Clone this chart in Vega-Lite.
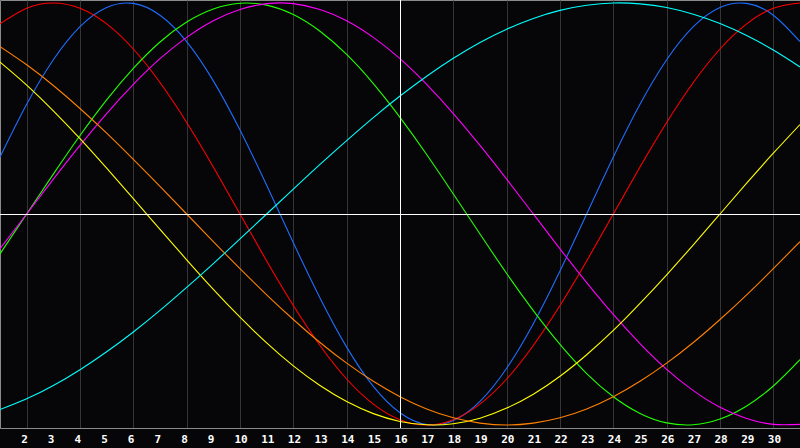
{
  "$schema": "https://vega.github.io/schema/vega-lite/v6.json",
  "width": 800,
  "height": 428,
  "autosize": "none",
  "padding": {"left": 0, "top": 0, "right": 0, "bottom": 20},
  "background": "#060608",
  "config": {
    "view": {"stroke": "#8a8a8a", "fill": "#060608"}
  },
  "datasets": {
    "curves": [
      {"d":1,"s":"Physical","v":0.270},{"d":2,"s":"Physical","v":0.520},{"d":3,"s":"Physical","v":0.731},{"d":4,"s":"Physical","v":0.888},{"d":5,"s":"Physical","v":0.979},{"d":6,"s":"Physical","v":0.998},{"d":7,"s":"Physical","v":0.942},{"d":8,"s":"Physical","v":0.817},{"d":9,"s":"Physical","v":0.631},{"d":10,"s":"Physical","v":0.398},{"d":11,"s":"Physical","v":0.136},{"d":12,"s":"Physical","v":-0.136},{"d":13,"s":"Physical","v":-0.398},{"d":14,"s":"Physical","v":-0.631},{"d":15,"s":"Physical","v":-0.817},{"d":16,"s":"Physical","v":-0.942},{"d":17,"s":"Physical","v":-0.998},{"d":18,"s":"Physical","v":-0.979},{"d":19,"s":"Physical","v":-0.888},{"d":20,"s":"Physical","v":-0.731},{"d":21,"s":"Physical","v":-0.520},{"d":22,"s":"Physical","v":-0.270},{"d":23,"s":"Physical","v":0},{"d":24,"s":"Physical","v":0.270},{"d":25,"s":"Physical","v":0.520},{"d":26,"s":"Physical","v":0.731},{"d":27,"s":"Physical","v":0.888},{"d":28,"s":"Physical","v":0.979},{"d":29,"s":"Physical","v":0.998},{"d":30,"s":"Physical","v":0.942},{"d":31,"s":"Physical","v":0.817},
      {"d":1,"s":"Emotional","v":0.901},{"d":2,"s":"Emotional","v":0.975},{"d":3,"s":"Emotional","v":1},{"d":4,"s":"Emotional","v":0.975},{"d":5,"s":"Emotional","v":0.901},{"d":6,"s":"Emotional","v":0.782},{"d":7,"s":"Emotional","v":0.623},{"d":8,"s":"Emotional","v":0.434},{"d":9,"s":"Emotional","v":0.223},{"d":10,"s":"Emotional","v":0},{"d":11,"s":"Emotional","v":-0.223},{"d":12,"s":"Emotional","v":-0.434},{"d":13,"s":"Emotional","v":-0.623},{"d":14,"s":"Emotional","v":-0.782},{"d":15,"s":"Emotional","v":-0.901},{"d":16,"s":"Emotional","v":-0.975},{"d":17,"s":"Emotional","v":-1},{"d":18,"s":"Emotional","v":-0.975},{"d":19,"s":"Emotional","v":-0.901},{"d":20,"s":"Emotional","v":-0.782},{"d":21,"s":"Emotional","v":-0.623},{"d":22,"s":"Emotional","v":-0.434},{"d":23,"s":"Emotional","v":-0.223},{"d":24,"s":"Emotional","v":0},{"d":25,"s":"Emotional","v":0.223},{"d":26,"s":"Emotional","v":0.434},{"d":27,"s":"Emotional","v":0.623},{"d":28,"s":"Emotional","v":0.782},{"d":29,"s":"Emotional","v":0.901},{"d":30,"s":"Emotional","v":0.975},{"d":31,"s":"Emotional","v":1},
      {"d":1,"s":"Intellectual","v":-0.189},{"d":2,"s":"Intellectual","v":0},{"d":3,"s":"Intellectual","v":0.189},{"d":4,"s":"Intellectual","v":0.372},{"d":5,"s":"Intellectual","v":0.541},{"d":6,"s":"Intellectual","v":0.690},{"d":7,"s":"Intellectual","v":0.815},{"d":8,"s":"Intellectual","v":0.910},{"d":9,"s":"Intellectual","v":0.972},{"d":10,"s":"Intellectual","v":0.999},{"d":11,"s":"Intellectual","v":0.990},{"d":12,"s":"Intellectual","v":0.945},{"d":13,"s":"Intellectual","v":0.866},{"d":14,"s":"Intellectual","v":0.756},{"d":15,"s":"Intellectual","v":0.618},{"d":16,"s":"Intellectual","v":0.458},{"d":17,"s":"Intellectual","v":0.282},{"d":18,"s":"Intellectual","v":0.095},{"d":19,"s":"Intellectual","v":-0.095},{"d":20,"s":"Intellectual","v":-0.282},{"d":21,"s":"Intellectual","v":-0.458},{"d":22,"s":"Intellectual","v":-0.618},{"d":23,"s":"Intellectual","v":-0.756},{"d":24,"s":"Intellectual","v":-0.866},{"d":25,"s":"Intellectual","v":-0.945},{"d":26,"s":"Intellectual","v":-0.990},{"d":27,"s":"Intellectual","v":-0.999},{"d":28,"s":"Intellectual","v":-0.972},{"d":29,"s":"Intellectual","v":-0.910},{"d":30,"s":"Intellectual","v":-0.815},{"d":31,"s":"Intellectual","v":-0.690},
      {"d":1,"s":"Intuitive","v":-0.165},{"d":2,"s":"Intuitive","v":0},{"d":3,"s":"Intuitive","v":0.165},{"d":4,"s":"Intuitive","v":0.325},{"d":5,"s":"Intuitive","v":0.476},{"d":6,"s":"Intuitive","v":0.614},{"d":7,"s":"Intuitive","v":0.736},{"d":8,"s":"Intuitive","v":0.837},{"d":9,"s":"Intuitive","v":0.916},{"d":10,"s":"Intuitive","v":0.969},{"d":11,"s":"Intuitive","v":0.997},{"d":12,"s":"Intuitive","v":0.997},{"d":13,"s":"Intuitive","v":0.969},{"d":14,"s":"Intuitive","v":0.916},{"d":15,"s":"Intuitive","v":0.837},{"d":16,"s":"Intuitive","v":0.736},{"d":17,"s":"Intuitive","v":0.614},{"d":18,"s":"Intuitive","v":0.476},{"d":19,"s":"Intuitive","v":0.325},{"d":20,"s":"Intuitive","v":0.165},{"d":21,"s":"Intuitive","v":0},{"d":22,"s":"Intuitive","v":-0.165},{"d":23,"s":"Intuitive","v":-0.325},{"d":24,"s":"Intuitive","v":-0.476},{"d":25,"s":"Intuitive","v":-0.614},{"d":26,"s":"Intuitive","v":-0.736},{"d":27,"s":"Intuitive","v":-0.837},{"d":28,"s":"Intuitive","v":-0.916},{"d":29,"s":"Intuitive","v":-0.969},{"d":30,"s":"Intuitive","v":-0.997},{"d":31,"s":"Intuitive","v":-0.997},
      {"d":1,"s":"Aesthetic","v":0.720},{"d":2,"s":"Aesthetic","v":0.611},{"d":3,"s":"Aesthetic","v":0.489},{"d":4,"s":"Aesthetic","v":0.357},{"d":5,"s":"Aesthetic","v":0.217},{"d":6,"s":"Aesthetic","v":0.073},{"d":7,"s":"Aesthetic","v":-0.073},{"d":8,"s":"Aesthetic","v":-0.217},{"d":9,"s":"Aesthetic","v":-0.357},{"d":10,"s":"Aesthetic","v":-0.489},{"d":11,"s":"Aesthetic","v":-0.611},{"d":12,"s":"Aesthetic","v":-0.720},{"d":13,"s":"Aesthetic","v":-0.813},{"d":14,"s":"Aesthetic","v":-0.889},{"d":15,"s":"Aesthetic","v":-0.946},{"d":16,"s":"Aesthetic","v":-0.983},{"d":17,"s":"Aesthetic","v":-0.999},{"d":18,"s":"Aesthetic","v":-0.994},{"d":19,"s":"Aesthetic","v":-0.968},{"d":20,"s":"Aesthetic","v":-0.920},{"d":21,"s":"Aesthetic","v":-0.854},{"d":22,"s":"Aesthetic","v":-0.769},{"d":23,"s":"Aesthetic","v":-0.667},{"d":24,"s":"Aesthetic","v":-0.552},{"d":25,"s":"Aesthetic","v":-0.424},{"d":26,"s":"Aesthetic","v":-0.288},{"d":27,"s":"Aesthetic","v":-0.146},{"d":28,"s":"Aesthetic","v":0},{"d":29,"s":"Aesthetic","v":0.146},{"d":30,"s":"Aesthetic","v":0.288},{"d":31,"s":"Aesthetic","v":0.424},
      {"d":1,"s":"Awareness","v":0.793},{"d":2,"s":"Awareness","v":0.707},{"d":3,"s":"Awareness","v":0.609},{"d":4,"s":"Awareness","v":0.5},{"d":5,"s":"Awareness","v":0.383},{"d":6,"s":"Awareness","v":0.259},{"d":7,"s":"Awareness","v":0.131},{"d":8,"s":"Awareness","v":0},{"d":9,"s":"Awareness","v":-0.131},{"d":10,"s":"Awareness","v":-0.259},{"d":11,"s":"Awareness","v":-0.383},{"d":12,"s":"Awareness","v":-0.5},{"d":13,"s":"Awareness","v":-0.609},{"d":14,"s":"Awareness","v":-0.707},{"d":15,"s":"Awareness","v":-0.793},{"d":16,"s":"Awareness","v":-0.866},{"d":17,"s":"Awareness","v":-0.924},{"d":18,"s":"Awareness","v":-0.966},{"d":19,"s":"Awareness","v":-0.991},{"d":20,"s":"Awareness","v":-1},{"d":21,"s":"Awareness","v":-0.991},{"d":22,"s":"Awareness","v":-0.966},{"d":23,"s":"Awareness","v":-0.924},{"d":24,"s":"Awareness","v":-0.866},{"d":25,"s":"Awareness","v":-0.793},{"d":26,"s":"Awareness","v":-0.707},{"d":27,"s":"Awareness","v":-0.609},{"d":28,"s":"Awareness","v":-0.5},{"d":29,"s":"Awareness","v":-0.383},{"d":30,"s":"Awareness","v":-0.259},{"d":31,"s":"Awareness","v":-0.131},
      {"d":1,"s":"Spiritual","v":-0.927},{"d":2,"s":"Spiritual","v":-0.876},{"d":3,"s":"Spiritual","v":-0.813},{"d":4,"s":"Spiritual","v":-0.738},{"d":5,"s":"Spiritual","v":-0.653},{"d":6,"s":"Spiritual","v":-0.559},{"d":7,"s":"Spiritual","v":-0.457},{"d":8,"s":"Spiritual","v":-0.348},{"d":9,"s":"Spiritual","v":-0.235},{"d":10,"s":"Spiritual","v":-0.118},{"d":11,"s":"Spiritual","v":0},{"d":12,"s":"Spiritual","v":0.118},{"d":13,"s":"Spiritual","v":0.235},{"d":14,"s":"Spiritual","v":0.348},{"d":15,"s":"Spiritual","v":0.457},{"d":16,"s":"Spiritual","v":0.559},{"d":17,"s":"Spiritual","v":0.653},{"d":18,"s":"Spiritual","v":0.738},{"d":19,"s":"Spiritual","v":0.813},{"d":20,"s":"Spiritual","v":0.876},{"d":21,"s":"Spiritual","v":0.927},{"d":22,"s":"Spiritual","v":0.965},{"d":23,"s":"Spiritual","v":0.989},{"d":24,"s":"Spiritual","v":1},{"d":25,"s":"Spiritual","v":0.996},{"d":26,"s":"Spiritual","v":0.979},{"d":27,"s":"Spiritual","v":0.947},{"d":28,"s":"Spiritual","v":0.903},{"d":29,"s":"Spiritual","v":0.846},{"d":30,"s":"Spiritual","v":0.777},{"d":31,"s":"Spiritual","v":0.697}
    ],
    "days": [
      {"d":2},{"d":3},{"d":4},{"d":5},{"d":6},{"d":7},{"d":8},{"d":9},{"d":10},{"d":11},{"d":12},{"d":13},{"d":14},{"d":15},{"d":16},{"d":17},{"d":18},{"d":19},{"d":20},{"d":21},{"d":22},{"d":23},{"d":24},{"d":25},{"d":26},{"d":27},{"d":28},{"d":29},{"d":30}
    ],
    "today": [{"d": 16}],
    "zero": [{"v": 0}]
  },
  "layer": [
    {
      "data": {"name": "curves"},
      "mark": {"type": "line", "interpolate": "natural", "strokeWidth": 1.1, "clip": true},
      "encoding": {
        "x": {
          "field": "d", "type": "quantitative",
          "scale": {"domain": [1, 31], "nice": false, "zero": false},
          "axis": {
            "values": [2,3,4,5,6,7,8,9,10,11,12,13,14,15,16,17,18,19,20,21,22,23,24,25,26,27,28,29,30],
            "title": null, "grid": true, "gridColor": "#353535", "gridWidth": 1,
            "ticks": false, "domain": true, "domainColor": "#8a8a8a", "labels": false
          }
        },
        "y": {
          "field": "v", "type": "quantitative",
          "scale": {"domain": [-1.0142, 1.0142], "nice": false, "zero": false},
          "axis": null
        },
        "color": {
          "field": "s", "type": "nominal",
          "scale": {
            "domain": ["Physical", "Emotional", "Intellectual", "Intuitive", "Aesthetic", "Awareness", "Spiritual"],
            "range": ["#1e6eff", "#ff0000", "#22ff00", "#ff00ff", "#ffff00", "#ff8000", "#00ffff"]
          },
          "legend": null
        },
        "order": {"field": "d"}
      }
    },
    {
      "data": {"name": "days"},
      "mark": {"type": "text", "color": "#ffffff", "font": "DejaVu Sans Mono", "fontWeight": "bold", "fontSize": 11, "align": "left", "baseline": "alphabetic", "dx": -5.5},
      "encoding": {
        "x": {"field": "d", "type": "quantitative"},
        "y": {"datum": -1.0853},
        "text": {"field": "d", "type": "quantitative"}
      }
    },
    {
      "data": {"name": "today"},
      "mark": {"type": "rule", "color": "#ffffff", "strokeWidth": 1, "xOffset": 0.5},
      "encoding": {"x": {"field": "d", "type": "quantitative"}}
    },
    {
      "data": {"name": "zero"},
      "mark": {"type": "rule", "color": "#ffffff", "strokeWidth": 1, "yOffset": 0.5},
      "encoding": {"y": {"field": "v", "type": "quantitative"}}
    }
  ]
}
